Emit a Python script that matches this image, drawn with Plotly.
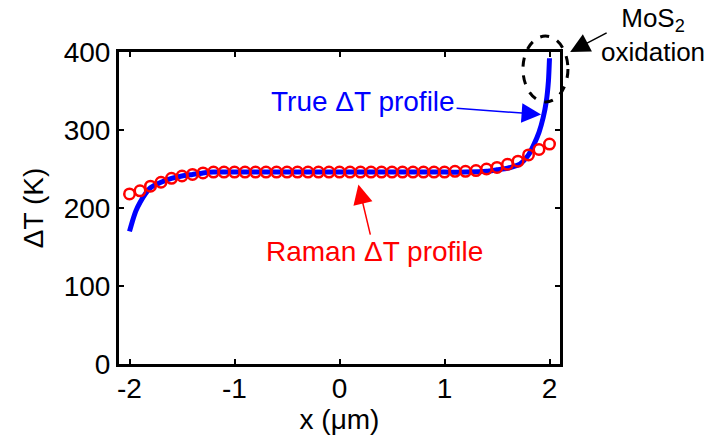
import plotly.graph_objects as go

# Raman-measured profile (red open circles)
raman_x = [-2.0, -1.9, -1.8, -1.7, -1.6, -1.5, -1.4, -1.3, -1.2, -1.1, -1.0,
           -0.9, -0.8, -0.7, -0.6, -0.5, -0.4, -0.3, -0.2, -0.1, 0.0,
           0.1, 0.2, 0.3, 0.4, 0.5, 0.6, 0.7, 0.8, 0.9, 1.0,
           1.1, 1.2, 1.3, 1.4, 1.5, 1.6, 1.7, 1.8, 1.9, 2.0]
raman_y = [218, 222, 228, 233, 238, 241, 243, 245, 246, 246, 246,
           246, 246, 246, 246, 246, 246, 246, 246, 246, 246,
           246, 246, 246, 246, 246, 246, 246, 246, 246, 246,
           247, 247, 248, 250, 252, 256, 260, 268, 275, 282]

# True temperature profile (blue line)
true_x = [-2.0, -1.97, -1.94, -1.9, -1.85, -1.8, -1.7, -1.6, -1.5, -1.4, -1.3,
          -1.2, -1.0, -0.5, 0.0, 0.5, 1.0, 1.2, 1.4, 1.5, 1.6, 1.7, 1.75,
          1.8, 1.85, 1.9, 1.94, 1.97, 1.99, 2.0]
true_y = [170, 184, 196, 207, 218, 226, 233, 238, 241, 243, 245,
          246, 246, 246, 246, 246, 246, 246, 247, 249, 251, 255, 260,
          268, 281, 297, 316, 337, 363, 392]

x_ticks = [-2, -1, 0, 1, 2]
y_ticks = [0, 100, 200, 300, 400]

FONT = "Arial, Liberation Sans, sans-serif"
FS = 28

fig = go.Figure()
fig.add_trace(go.Scatter(x=true_x, y=true_y, mode="lines",
                         line=dict(color="#0000ff", width=5, shape="spline", smoothing=0.6),
                         showlegend=False, hoverinfo="skip"))
fig.add_trace(go.Scatter(x=raman_x, y=raman_y, mode="markers",
                         marker=dict(symbol="circle-open", size=10.5, color="#ff0000",
                                     line=dict(width=2.5, color="#ff0000")),
                         showlegend=False, hoverinfo="skip"))

axis_common = dict(showline=True, linecolor="black", linewidth=3, mirror="ticks",
                   ticks="inside", ticklen=5, tickwidth=2, tickcolor="black",
                   showgrid=False, zeroline=False,
                   tickfont=dict(family=FONT, size=FS, color="black"))

fig.update_layout(
    width=704, height=430,
    margin=dict(l=111, r=152, t=44, b=74),
    paper_bgcolor="white", plot_bgcolor="white",
    font=dict(family=FONT, size=FS, color="black"),
    xaxis=dict(range=[-2.1, 2.1], tickvals=x_ticks, ticktext=[str(v) for v in x_ticks],
               ticklabelstandoff=-3,
               title=dict(text="x (μm)", font=dict(family=FONT, size=FS), standoff=0),
               **axis_common),
    yaxis=dict(range=[0, 400], tickvals=y_ticks, ticktext=[str(v) for v in y_ticks],
               title=dict(text="ΔT (K)", font=dict(family=FONT, size=FS), standoff=12),
               **axis_common),
)

# dashed ellipse around the oxidation region
fig.add_shape(type="circle", xref="paper", yref="paper",
              x0=0.916, x1=1.018, y0=0.840, y1=1.051,
              line=dict(color="black", width=3, dash="dash"), layer="above")

# labels
fig.add_annotation(x=1.92, y=320, xref="x", yref="y", ax=-178, ay=-13,
                   text="True ΔT profile", font=dict(family=FONT, size=FS, color="#0000ff"),
                   showarrow=True, arrowhead=2, arrowsize=2.6, arrowwidth=1.5,
                   arrowcolor="#0000ff")
fig.add_annotation(x=0.18, y=230, xref="x", yref="y", ax=16, ay=67,
                   text="Raman ΔT profile", font=dict(family=FONT, size=FS, color="#ff0000"),
                   showarrow=True, arrowhead=2, arrowsize=2.6, arrowwidth=1.5,
                   arrowcolor="#ff0000")
fig.add_annotation(x=1.212, y=1.055, xref="paper", yref="paper",
                   text="MoS<sub>2</sub><br>oxidation",
                   font=dict(family=FONT, size=FS - 2, color="black"),
                   showarrow=False, xanchor="center", yanchor="middle")
fig.add_annotation(x=1.023, y=1.0, xref="paper", yref="paper", ax=38, ay=-20,
                   text="", showarrow=True, arrowhead=2, arrowsize=2.6, arrowwidth=1.5,
                   arrowcolor="black")

fig.write_html("out.html")
